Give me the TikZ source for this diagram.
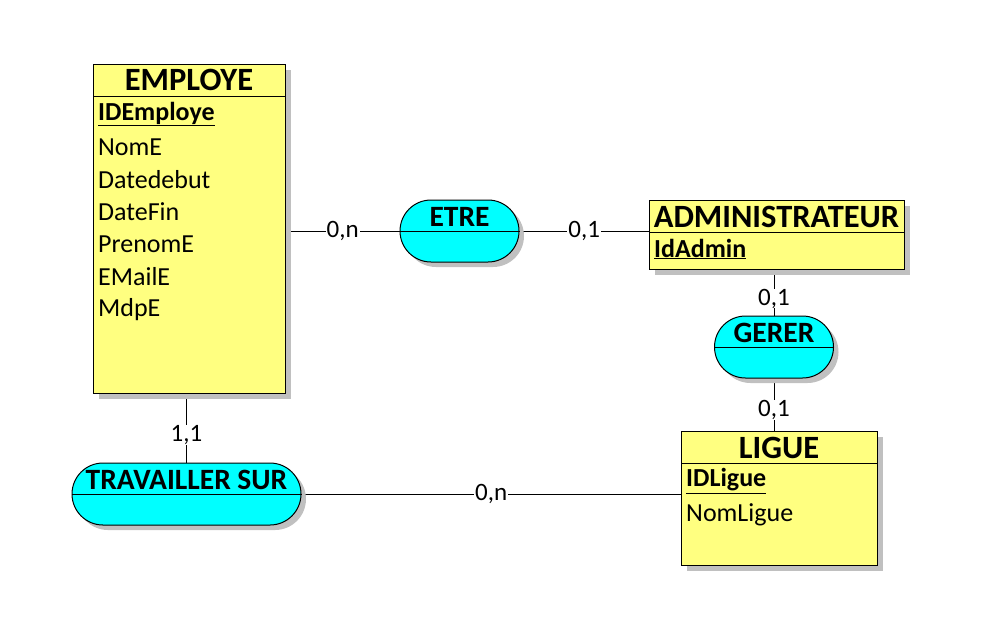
\documentclass[tikz,border=0pt]{standalone}
\usepackage{fontspec}
\setmainfont{Carlito}
\usetikzlibrary{shadows,calc,backgrounds}
\definecolor{entyellow}{RGB}{255,255,128}
\definecolor{asscyan}{RGB}{0,255,255}
\definecolor{shadowgray}{RGB}{192,192,192}
\tikzset{
  myshadow/.style={drop shadow={shadow xshift=5pt, shadow yshift=-5pt, fill=shadowgray, opacity=1}},
  entity/.style={draw, fill=entyellow, line width=1pt, inner sep=0pt, anchor=north west, myshadow},
  assoc/.style={draw, fill=asscyan, line width=1pt, inner sep=0pt, rounded corners=31pt, minimum width=119pt, minimum height=62pt, myshadow},
  etitle/.style={font=\fontsize{32.5}{38}\selectfont\bfseries, inner sep=0pt},
  atitle/.style={font=\fontsize{29.5}{34}\selectfont\bfseries, inner sep=0pt},
  attr/.style={font=\fontsize{26}{30}\selectfont, anchor=west, inner sep=0pt},
  keyattr/.style={font=\fontsize{26}{30}\selectfont\bfseries, anchor=west, inner sep=0pt},
  card/.style={font=\fontsize{25}{28}\selectfont, fill=white, inner xsep=1pt, inner ysep=0pt},
  conn/.style={line width=1pt},
  sep/.style={line width=1pt}
}
\begin{document}
\begin{tikzpicture}[x=1pt,y=-1pt]
\useasboundingbox (0,0) rectangle (995,641);
% EMPLOYE
\node[entity, minimum width=192pt, minimum height=329pt] (employe) at (93,64) {};
\node[etitle] (employeT) at (189,80) {EMPLOYE};
\draw[sep] ($(employe.north west)+(0,32)$) -- ($(employe.north east)+(0,32)$);
\node[keyattr] (e1) at (98,114) {\underline{IDEmploye}};
\node[attr] (e2) at (98,147) {NomE};
\node[attr] (e3) at (98,179.5) {Datedebut};
\node[attr] (e4) at (98,212) {DateFin};
\node[attr] (e5) at (98,244.5) {PrenomE};
\node[attr] (e6) at (98,277) {EMailE};
\node[attr] (e7) at (98,309.5) {MdpE};
% ADMINISTRATEUR
\node[entity, minimum width=255pt, minimum height=69pt] (admin) at (649,200) {};
\node[etitle] (adminT) at (776.5,216.5) {ADMINISTRATEUR};
\draw[sep] ($(admin.north west)+(0,32)$) -- ($(admin.north east)+(0,32)$);
\node[keyattr] (a1) at (654,249) {\underline{IdAdmin}};
% LIGUE
\node[entity, minimum width=196pt, minimum height=134pt] (ligue) at (681,431) {};
\node[etitle] (ligueT) at (779,447.5) {LIGUE};
\draw[sep] ($(ligue.north west)+(0,32)$) -- ($(ligue.north east)+(0,32)$);
\node[keyattr] (l1) at (686,481) {\underline{IDLigue}};
\node[attr] (l2) at (686,515) {NomLigue};
% ETRE
\node[assoc] (etre) at (459.5,231) {};
\draw[sep] (etre.west) -- (etre.east);
\node[atitle] (etreT) at (459.5,217) {ETRE};
% GERER
\node[assoc] (gerer) at (774,347) {};
\draw[sep] (gerer.west) -- (gerer.east);
\node[atitle] (gererT) at (774,333) {GERER};
% TRAVAILLER SUR
\node[assoc, minimum width=229pt] (trav) at (186.5,494) {};
\draw[sep] (trav.west) -- (trav.east);
\node[atitle] (travT) at (186.5,480) {TRAVAILLER SUR};
% connectors
\begin{pgfonlayer}{background}
\draw[conn] (employe.east |- etre.west) -- node[card] {0,n} (etre.west);
\draw[conn] (etre.east) -- node[card] {0,1} (admin.west |- etre.east);
\draw[conn] (admin.south -| gerer.north) -- node[card, pos=0.63] {0,1} (gerer.north);
\draw[conn] (gerer.south) -- node[card, pos=0.6] {0,1} (ligue.north -| gerer.south);
\draw[conn] (employe.south -| trav.north) -- node[card, pos=0.6] {1,1} (trav.north);
\draw[conn] (trav.east) -- node[card] {0,n} (ligue.west |- trav.east);
\end{pgfonlayer}
\end{tikzpicture}
\end{document}
